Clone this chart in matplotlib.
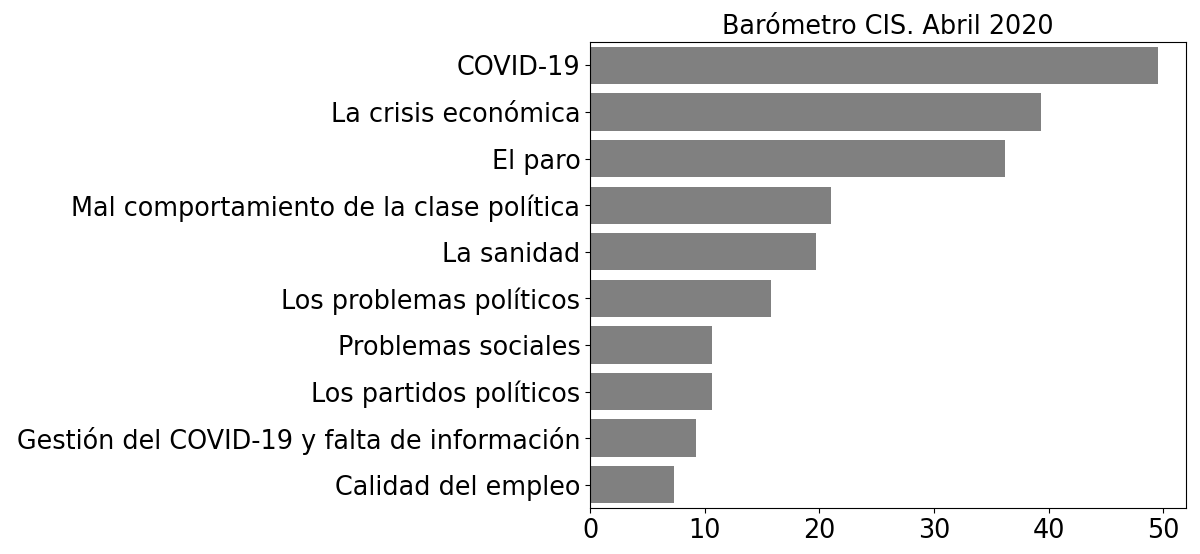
import matplotlib
matplotlib.use("Agg")
import matplotlib.pyplot as plt

# Problemas principales, Barómetro CIS abril 2020 (%)
categorias = [
    "COVID-19",
    "La crisis económica",
    "El paro",
    "Mal comportamiento de la clase política",
    "La sanidad",
    "Los problemas políticos",
    "Problemas sociales",
    "Los partidos políticos",
    "Gestión del COVID-19 y falta de información",
    "Calidad del empleo",
]
valores = [49.5, 39.3, 36.2, 21.0, 19.7, 15.8, 10.6, 10.6, 9.2, 7.3]

fig = plt.figure(figsize=(12, 5.54), dpi=100)
ax = fig.add_axes([0.4917, 0.083, 0.4966, 0.841])

ax.barh(categorias, valores, color="gray")
ax.set_ylim(len(categorias) - 0.5, -0.5)
ax.set_title("Barómetro CIS. Abril 2020", fontsize=18.4)
ax.tick_params(axis="both", labelsize=18.4)

plt.savefig("out.png", dpi=100)
